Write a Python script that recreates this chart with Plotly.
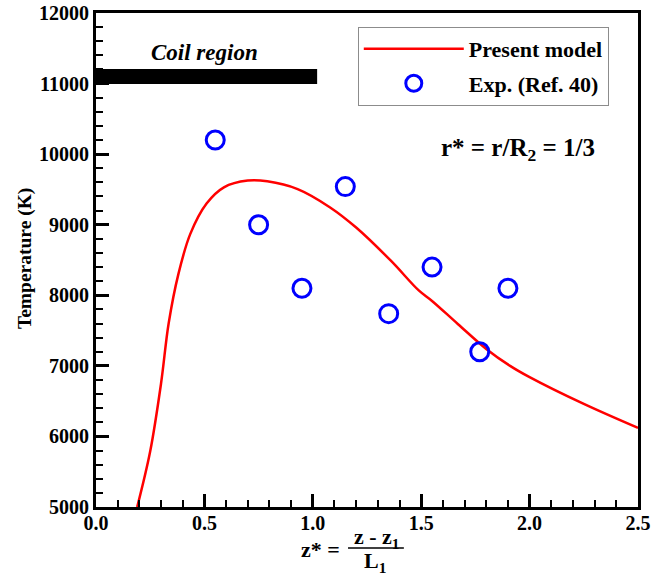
import plotly.graph_objects as go

# ---- data ----
model_z = [0.19, 0.25, 0.30, 0.335, 0.38, 0.435, 0.51, 0.59, 0.70, 0.79, 0.93,
           1.08, 1.20, 1.36, 1.49, 1.55, 1.67, 1.80, 1.91, 2.00, 2.25, 2.50]
model_T = [5000, 5790, 6750, 7600, 8300, 8870, 9300, 9530, 9625, 9615, 9505,
           9245, 8960, 8490, 8065, 7920, 7590, 7240, 7000, 6840, 6460, 6120]

exp_z = [0.55, 0.75, 0.95, 1.15, 1.35, 1.55, 1.77, 1.90]
exp_T = [10200, 9000, 8100, 9540, 7740, 8400, 7200, 8100]

coil_z = [0.0, 1.02]
coil_T = [11100, 11100]

x_ticks = [0.0, 0.5, 1.0, 1.5, 2.0, 2.5]
y_ticks = [5000, 6000, 7000, 8000, 9000, 10000, 11000, 12000]

FONT = "Liberation Serif"

fig = go.Figure()
fig.add_trace(go.Scatter(x=coil_z, y=coil_T, mode="lines",
                         line=dict(color="black", width=15),
                         showlegend=False, hoverinfo="skip"))
fig.add_trace(go.Scatter(x=model_z, y=model_T, mode="lines", name="Present model",
                         line=dict(color="rgb(255,0,0)", width=2.5, shape="spline", smoothing=1.0),
                         legendgroup="a"))
fig.add_trace(go.Scatter(x=exp_z, y=exp_T, mode="markers", name="Exp. (Ref. 40)",
                         marker=dict(symbol="circle-open", size=18,
                                     line=dict(color="rgb(0,0,255)", width=3),
                                     color="rgb(0,0,255)"),
                         legendgroup="b"))

axis_common = dict(showline=True, linecolor="black", linewidth=3, mirror=True,
                   ticks="inside", tickcolor="black", ticklen=13, tickwidth=2.5,
                   showgrid=False, zeroline=False, automargin=False,
                   tickfont=dict(family=FONT, size=20, color="black", weight="bold"))

fig.update_xaxes(range=[0, 2.5], tickvals=x_ticks,
                 ticktext=[f"{v:.1f}" for v in x_ticks], ticklabelstandoff=-4,
                 minor=dict(ticks="inside", dtick=0.1, ticklen=7, tickwidth=1.5, tickcolor="black"),
                 **axis_common)
fig.update_yaxes(range=[5000, 12000], tickvals=y_ticks,
                 ticktext=[str(v) for v in y_ticks],
                 minor=dict(ticks="inside", dtick=200, ticklen=7, tickwidth=1.5, tickcolor="black"),
                 **axis_common)

def af(size):
    return dict(family=FONT, size=size, color="black")

def note(text, x, y, size, **kw):
    return dict(text=text, x=x, y=y, xref="paper", yref="paper", showarrow=False,
                xanchor="center", yanchor="middle", font=af(size), **kw)

fig.update_layout(
    width=662, height=575,
    margin=dict(l=96, r=24, t=13, b=68, autoexpand=False),
    plot_bgcolor="white", paper_bgcolor="white",
    legend=dict(x=0.483, y=0.972, xanchor="left", yanchor="top",
                bordercolor="rgb(140,140,140)", borderwidth=1, bgcolor="white",
                font=dict(family=FONT, size=22, color="black", weight="bold"),
                traceorder="grouped", tracegroupgap=3, itemwidth=100),
    annotations=[
        note("<b><i>Coil region</i></b>", 0.201, 0.921, 23),
        note("<b>r* = r/R<sub>2</sub> = 1/3</b>", 0.779, 0.723, 25),
        note("<b>Temperature (K)</b>", -0.131, 0.504, 19.5, textangle=-90),
        note("<b>z* =</b>", 0.415, -0.087, 22),
        note("<b>z - z<sub>1</sub></b>", 0.518, -0.062, 22),
        note("<b>L<sub>1</sub></b>", 0.515, -0.111, 22),
    ],
    shapes=[dict(type="line", xref="paper", yref="paper", x0=0.465, x1=0.568,
                 y0=-0.083, y1=-0.083, line=dict(color="black", width=1.5))],
)

fig.write_html("out.html")
